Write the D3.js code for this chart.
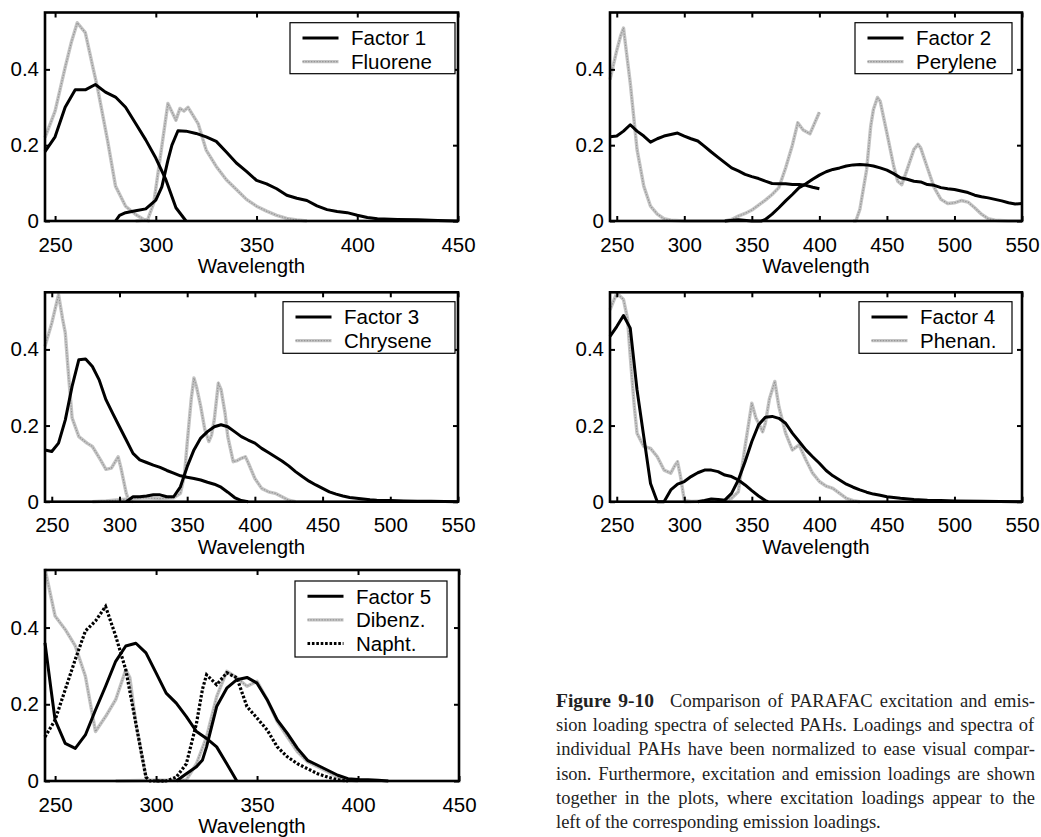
<!DOCTYPE html>
<html>
<head>
<meta charset="utf-8">
<script src="https://cdn.jsdelivr.net/npm/d3@7"></script>
<style>
  html, body { margin: 0; padding: 0; background: #fff; }
  svg { display: block; }
</style>
</head>
<body>
<script>
// Normalized loadings / spectra as [wavelength (nm), value] pairs.

// Panel 1 — Factor 1 vs Fluorene
const factor1Ex = [[245,0.183],[250,0.222],[255,0.30],[260,0.346],[265,0.346],[270,0.36],[275,0.34],[280,0.327],[285,0.30],[290,0.257],[295,0.214],[300,0.166],[305,0.109],[310,0.035],[315,0]];
const factor1Em = [[280,0],[282,0.015],[285,0.022],[290,0.027],[295,0.032],[300,0.055],[303,0.09],[306,0.16],[308,0.2],[311,0.238],[315,0.237],[320,0.231],[325,0.222],[330,0.21],[335,0.182],[340,0.153],[345,0.131],[350,0.107],[355,0.098],[360,0.085],[365,0.068],[370,0.06],[375,0.054],[380,0.04],[385,0.03],[390,0.025],[395,0.022],[400,0.015],[405,0.009],[410,0.006],[420,0.004],[430,0.003],[440,0.001],[450,0]];
const fluoreneEx = [[245,0.22],[250,0.29],[255,0.405],[258,0.47],[261,0.523],[265,0.497],[269,0.40],[271,0.353],[276,0.214],[280,0.092],[285,0.039],[290,0.017],[294,0.004],[297,0]];
const fluoreneEm = [[290,0],[296,0.004],[299,0.048],[302,0.16],[306,0.31],[310,0.266],[312,0.297],[314,0.29],[316,0.30],[321,0.257],[325,0.187],[330,0.144],[335,0.109],[340,0.083],[345,0.057],[350,0.039],[355,0.026],[360,0.015],[365,0.007],[370,0.003],[375,0]];

// Panel 2 — Factor 2 vs Perylene
const factor2Ex = [[245,0.222],[250,0.224],[255,0.237],[260,0.254],[265,0.237],[270,0.224],[275,0.208],[280,0.217],[285,0.224],[290,0.228],[295,0.232],[300,0.224],[305,0.217],[310,0.211],[315,0.197],[320,0.182],[325,0.168],[330,0.154],[335,0.14],[340,0.132],[345,0.123],[350,0.117],[355,0.112],[360,0.105],[365,0.099],[370,0.098],[375,0.098],[380,0.096],[385,0.096],[390,0.094],[395,0.089],[400,0.085]];
const factor2Em = [[330,0],[340,0.003],[350,0],[357,0],[360,0.004],[365,0.018],[370,0.035],[375,0.053],[380,0.07],[385,0.088],[390,0.098],[395,0.11],[400,0.121],[405,0.13],[410,0.136],[415,0.14],[420,0.145],[425,0.148],[430,0.149],[435,0.148],[440,0.145],[445,0.14],[450,0.134],[455,0.125],[460,0.114],[465,0.11],[470,0.105],[475,0.103],[480,0.096],[485,0.094],[490,0.088],[495,0.085],[500,0.083],[505,0.079],[510,0.075],[515,0.068],[520,0.064],[525,0.061],[530,0.057],[535,0.053],[540,0.048],[545,0.045],[550,0.046]];
const peryleneEx = [[245,0.373],[250,0.45],[253,0.49],[255,0.509],[257,0.45],[260,0.364],[265,0.189],[270,0.092],[275,0.039],[280,0.018],[285,0.006],[290,0.002],[300,0],[330,0],[335,0.004],[340,0.013],[345,0.02],[350,0.029],[355,0.042],[360,0.055],[365,0.07],[370,0.088],[375,0.14],[380,0.2],[384,0.259],[388,0.24],[393,0.23],[400,0.287]];
const peryleneEm = [[425,0],[427,0],[430,0.031],[435,0.136],[438,0.25],[440,0.294],[443,0.326],[445,0.316],[450,0.232],[455,0.145],[458,0.105],[461,0.096],[465,0.136],[470,0.189],[473,0.202],[475,0.193],[480,0.14],[485,0.088],[490,0.057],[495,0.046],[500,0.048],[505,0.054],[510,0.05],[515,0.035],[520,0.018],[525,0.006],[530,0.002],[540,0],[550,0]];

// Panel 3 — Factor 3 vs Chrysene
const factor3Ex = [[245,0.136],[250,0.132],[255,0.154],[260,0.215],[265,0.303],[270,0.373],[275,0.375],[280,0.355],[285,0.32],[290,0.268],[295,0.232],[300,0.197],[305,0.162],[310,0.127],[315,0.11],[320,0.103],[325,0.096],[330,0.09],[335,0.082],[340,0.075],[345,0.068],[350,0.064],[355,0.061],[360,0.057],[365,0.051],[370,0.046],[375,0.038],[380,0.025],[385,0.011],[390,0.003],[395,0]];
const factor3Em = [[305,0],[310,0.013],[315,0.013],[320,0.015],[325,0.018],[330,0.018],[335,0.013],[340,0.013],[345,0.039],[350,0.092],[355,0.136],[360,0.167],[365,0.184],[370,0.197],[375,0.202],[380,0.197],[385,0.184],[390,0.171],[395,0.162],[400,0.154],[405,0.14],[410,0.129],[415,0.118],[420,0.107],[425,0.094],[430,0.079],[435,0.066],[440,0.054],[445,0.044],[450,0.035],[455,0.026],[460,0.02],[465,0.015],[470,0.011],[475,0.009],[480,0.007],[485,0.005],[490,0.004],[500,0.003],[510,0.002],[520,0.001],[530,0.001],[550,0]];
const chryseneEx = [[245,0.408],[250,0.469],[255,0.544],[258,0.48],[260,0.443],[262,0.35],[265,0.22],[270,0.171],[276,0.154],[280,0.145],[286,0.11],[290,0.085],[294,0.088],[299,0.118],[301,0.09],[305,0.022],[307,0.002],[310,0]];
const chryseneEm = [[280,0],[290,0.002],[300,0.005],[310,0.008],[320,0.01],[330,0.008],[340,0.01],[345,0.022],[348,0.07],[350,0.154],[353,0.27],[355,0.325],[357,0.3],[360,0.25],[363,0.19],[366,0.158],[368,0.175],[370,0.215],[373,0.311],[375,0.295],[378,0.232],[380,0.171],[384,0.105],[387,0.108],[390,0.114],[393,0.118],[395,0.103],[400,0.061],[405,0.035],[410,0.026],[415,0.022],[420,0.013],[425,0.004],[430,0]];

// Panel 4 — Factor 4 vs Phenanthrene
const factor4Ex = [[245,0.434],[250,0.46],[255,0.489],[260,0.456],[265,0.294],[270,0.171],[275,0.048],[280,0],[285,0],[290,0.031],[295,0.046],[300,0.053],[305,0.066],[310,0.076],[315,0.083],[320,0.083],[325,0.079],[330,0.07],[335,0.066],[340,0.057],[345,0.044],[350,0.029],[355,0.015],[360,0.003],[362,0]];
const factor4Em = [[310,0],[315,0.003],[320,0.007],[325,0.006],[330,0.004],[335,0.022],[340,0.057],[345,0.105],[350,0.158],[355,0.202],[360,0.222],[365,0.224],[370,0.219],[375,0.206],[380,0.18],[385,0.158],[390,0.136],[395,0.118],[400,0.101],[405,0.082],[410,0.068],[415,0.057],[420,0.046],[425,0.038],[430,0.031],[435,0.025],[440,0.02],[445,0.017],[450,0.013],[455,0.011],[460,0.009],[470,0.006],[480,0.004],[490,0.003],[500,0.002],[520,0.001],[550,0]];
const phenanEx = [[245,0.504],[250,0.548],[255,0.531],[258,0.48],[260,0.382],[263,0.25],[265,0.18],[270,0.145],[275,0.14],[280,0.118],[285,0.083],[290,0.075],[293,0.095],[295,0.105],[297,0.07],[300,0.004],[305,0]];
const phenanEm = [[300,0],[315,0.002],[320,0.004],[330,0.003],[335,0.009],[340,0.026],[345,0.145],[350,0.259],[353,0.22],[355,0.206],[358,0.184],[360,0.206],[363,0.27],[367,0.316],[370,0.25],[375,0.18],[380,0.136],[385,0.149],[390,0.11],[395,0.075],[400,0.053],[405,0.041],[410,0.035],[415,0.022],[420,0.009],[425,0.003],[430,0]];

// Panel 5 — Factor 5 vs Dibenzofuran and Naphthalene
const factor5Ex = [[245,0.36],[248,0.238],[250,0.159],[255,0.098],[260,0.085],[265,0.12],[270,0.185],[275,0.247],[280,0.312],[285,0.352],[290,0.359],[295,0.334],[300,0.282],[305,0.229],[310,0.203],[315,0.168],[320,0.129],[325,0.111],[330,0.089],[335,0.045],[340,0]];
const factor5Em = [[310,0],[315,0.019],[320,0.037],[323,0.055],[325,0.089],[330,0.194],[335,0.242],[340,0.264],[345,0.27],[350,0.255],[355,0.212],[360,0.159],[365,0.124],[370,0.085],[375,0.054],[380,0.041],[385,0.028],[390,0.015],[395,0.006],[400,0.004],[405,0.003],[410,0.002],[415,0]];
const dibenzEx = [[245,0.553],[250,0.43],[255,0.395],[260,0.352],[265,0.273],[270,0.129],[275,0.168],[280,0.212],[285,0.29],[287,0.27],[290,0.15],[295,0.01],[297,0]];
const dibenzEm = [[280,0],[300,0.002],[315,0.003],[320,0.045],[325,0.115],[330,0.22],[335,0.286],[340,0.269],[345,0.247],[350,0.26],[355,0.212],[360,0.155],[365,0.115],[370,0.076],[375,0.05],[380,0.037],[385,0.024],[390,0.01],[395,0.003],[400,0]];
const naphtEx = [[245,0.115],[250,0.159],[255,0.238],[260,0.317],[265,0.391],[270,0.417],[275,0.455],[280,0.378],[285,0.29],[290,0.15],[295,0.01],[297,0],[305,0]];
const naphtEm = [[300,0],[305,0],[310,0.01],[315,0.045],[320,0.15],[323,0.24],[325,0.277],[330,0.251],[335,0.282],[340,0.269],[345,0.194],[350,0.164],[355,0.133],[360,0.089],[365,0.063],[370,0.045],[375,0.032],[380,0.019],[385,0.01],[390,0.003],[395,0]];

// Axis ticks
const xTicksShort = [250, 300, 350, 400, 450];
const xTicksLong = [250, 300, 350, 400, 450, 500, 550];
const yTicks = [0, 0.2, 0.4];
const yMax = 0.55;

// Caption
const captionLabel = "Figure 9-10";
const captionLines = [
  "Comparison of PARAFAC excitation and emis-",
  "sion loading spectra of selected PAHs. Loadings and spectra of",
  "individual PAHs have been normalized to ease visual compar-",
  "ison. Furthermore, excitation and emission loadings are shown",
  "together in the plots, where excitation loadings appear to the",
  "left of the corresponding emission loadings."
];

// Panel layout: plot frame [left, right, top, bottom] and legend box [x, y, w, h]
const panels = [
  { frame: [45, 458, 12.5, 221], xDomain: [245, 450], xTicks: xTicksShort,
    legend: [290, 22.7, 165, 51],
    entries: [["Factor 1", "black"], ["Fluorene", "grey"]],
    series: [[fluoreneEx, "grey"], [fluoreneEm, "grey"], [factor1Ex, "black"], [factor1Em, "black"]] },
  { frame: [610, 1022, 12.5, 221], xDomain: [245, 550], xTicks: xTicksLong,
    legend: [855, 22.7, 157, 51],
    entries: [["Factor 2", "black"], ["Perylene", "grey"]],
    series: [[peryleneEx, "grey"], [peryleneEm, "grey"], [factor2Ex, "black"], [factor2Em, "black"]] },
  { frame: [45, 458, 292.3, 501.7], xDomain: [245, 550], xTicks: xTicksLong,
    legend: [283, 301.7, 172, 51.6],
    entries: [["Factor 3", "black"], ["Chrysene", "grey"]],
    series: [[chryseneEx, "grey"], [chryseneEm, "grey"], [factor3Ex, "black"], [factor3Em, "black"]] },
  { frame: [610, 1022, 292.3, 501.7], xDomain: [245, 550], xTicks: xTicksLong,
    legend: [859, 301.7, 153, 51.6],
    entries: [["Factor 4", "black"], ["Phenan.", "grey"]],
    series: [[phenanEx, "grey"], [phenanEm, "grey"], [factor4Ex, "black"], [factor4Em, "black"]] },
  { frame: [45, 459, 570, 781], xDomain: [245, 450], xTicks: xTicksShort,
    legend: [295, 581, 152, 76],
    entries: [["Factor 5", "black"], ["Dibenz.", "grey"], ["Napht.", "dotted"]],
    series: [[dibenzEx, "grey"], [dibenzEm, "grey"], [factor5Ex, "black"], [factor5Em, "black"], [naphtEx, "dotted"], [naphtEm, "dotted"]] }
];

const W = 1041, H = 837;
const SANS = "'Liberation Sans', Arial, Helvetica, sans-serif";
const SERIF = "'Liberation Serif', 'Times New Roman', serif";

const svg = d3.select("body").append("svg")
  .attr("width", W).attr("height", H)
  .attr("viewBox", `0 0 ${W} ${H}`);
svg.append("rect").attr("width", W).attr("height", H).attr("fill", "#fff");

// Stroke a path string in one of the three line styles
function strokePath(g, d, style) {
  if (style === "grey") {
    g.append("path").attr("d", d).attr("fill", "none")
      .attr("stroke", "#c4c4c4").attr("stroke-width", 3.4)
      .attr("stroke-linejoin", "round");
    g.append("path").attr("d", d).attr("fill", "none")
      .attr("stroke", "#959595").attr("stroke-width", 1.1)
      .attr("stroke-dasharray", "1.4,1.4");
  } else if (style === "dotted") {
    g.append("path").attr("d", d).attr("fill", "none")
      .attr("stroke", "#000").attr("stroke-width", 3.2)
      .attr("stroke-dasharray", "2.6,1.8");
  } else {
    g.append("path").attr("d", d).attr("fill", "none")
      .attr("stroke", "#000").attr("stroke-width", 3)
      .attr("stroke-linejoin", "round");
  }
}

panels.forEach(p => {
  const [x0, x1, y0, y1] = p.frame;
  const x = d3.scaleLinear().domain(p.xDomain).range([x0, x1]);
  const y = d3.scaleLinear().domain([0, yMax]).range([y1, y0]);
  const g = svg.append("g");

  // spectra and loadings
  const line = d3.line().x(d => x(d[0])).y(d => y(d[1]));
  p.series.forEach(([data, style]) => strokePath(g, line(data), style));

  // axes with inward ticks on all four sides
  const styleAxis = sel => {
    sel.select(".domain").remove();
    sel.selectAll(".tick line").attr("stroke", "#000").attr("stroke-width", 2);
    sel.selectAll("text").attr("fill", "#000")
      .style("font-family", SANS).style("font-size", "20.5px");
  };
  g.append("g").attr("transform", `translate(0,${y1})`)
    .call(d3.axisBottom(x).tickValues(p.xTicks).tickSizeInner(-5).tickSizeOuter(0)
      .tickPadding(16).tickFormat(d3.format("d")))
    .call(styleAxis);
  g.append("g").attr("transform", `translate(0,${y0})`)
    .call(d3.axisTop(x).tickValues(p.xTicks).tickSizeInner(-5).tickSizeOuter(0).tickFormat(""))
    .call(styleAxis);
  g.append("g").attr("transform", `translate(${x0},0)`)
    .call(d3.axisLeft(y).tickValues(yTicks).tickSizeInner(-5).tickSizeOuter(0)
      .tickPadding(6).tickFormat(d => d === 0 ? "0" : d3.format(".1f")(d)))
    .call(styleAxis);
  g.append("g").attr("transform", `translate(${x1},0)`)
    .call(d3.axisRight(y).tickValues(yTicks).tickSizeInner(-5).tickSizeOuter(0).tickFormat(""))
    .call(styleAxis);

  g.append("rect").attr("x", x0).attr("y", y0)
    .attr("width", x1 - x0).attr("height", y1 - y0)
    .attr("fill", "none").attr("stroke", "#000").attr("stroke-width", 2.6);

  g.append("text").attr("x", (x0 + x1) / 2).attr("y", y1 + 52)
    .attr("text-anchor", "middle")
    .style("font-family", SANS).style("font-size", "20.5px")
    .text("Wavelength");

  // legend
  const [lx, ly, lw, lh] = p.legend;
  const lg = g.append("g");
  lg.append("rect").attr("x", lx).attr("y", ly).attr("width", lw).attr("height", lh)
    .attr("fill", "#fff").attr("stroke", "#000").attr("stroke-width", 1.2);
  p.entries.forEach(([name, style], i) => {
    const cy = ly + 15.3 + i * 23.6;
    strokePath(lg, `M${lx + 12.5},${cy}H${lx + 48.5}`, style);
    lg.append("text").attr("x", lx + 61).attr("y", cy)
      .attr("dy", "0.36em")
      .style("font-family", SANS).style("font-size", "20.5px")
      .text(name);
  });
});

// Caption, justified between the left and right margins
const capLeft = 556, capRight = 1035, capBase = 707, capLead = 24.2;
const cap = svg.append("g")
  .style("font-family", SERIF).style("font-size", "18.5px").attr("fill", "#222");
captionLines.forEach((txt, i) => {
  const t = cap.append("text").attr("x", capLeft).attr("y", capBase + i * capLead);
  if (i === 0) {
    t.append("tspan").attr("font-weight", "bold").style("font-size", "19.5px").text(captionLabel);
    t.append("tspan").attr("dx", 16).text(txt);
  } else {
    t.text(txt);
  }
  if (i < captionLines.length - 1) {
    const box = t.node().getBBox();
    const spaces = (t.text().match(/ /g) || []).length;
    const extra = capRight - (box.x + box.width);
    if (spaces > 0) t.attr("word-spacing", extra / spaces);
  }
});
</script>
</body>
</html>
